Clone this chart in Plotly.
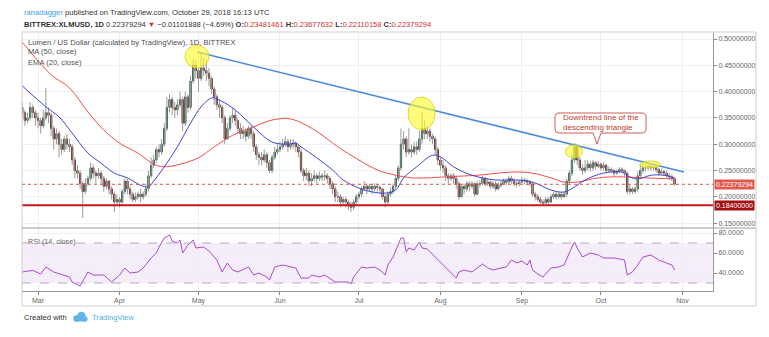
import pandas as pd
import plotly.graph_objects as go

# ---------------- data: XLM/USD daily candles (Bittrex) ----------------
start_date = "2018-02-23"
first_open = 0.37
closes = [
    # Feb 23-28
    0.36, 0.345, 0.35, 0.37, 0.36, 0.35,
    # Mar
    0.345, 0.335, 0.35, 0.36, 0.355, 0.33, 0.31, 0.32, 0.30, 0.29,
    0.31, 0.30, 0.295, 0.27, 0.25, 0.245, 0.225, 0.21, 0.225, 0.235,
    0.255, 0.245, 0.24, 0.245, 0.235, 0.22, 0.23, 0.215, 0.205, 0.19, 0.195,
    # Apr
    0.19, 0.21, 0.23, 0.215, 0.205, 0.195, 0.20, 0.205, 0.20, 0.205,
    0.215, 0.24, 0.26, 0.27, 0.29, 0.285, 0.30, 0.33, 0.37, 0.385,
    0.37, 0.365, 0.375, 0.385, 0.34, 0.39, 0.37, 0.42, 0.45, 0.44,
    # May
    0.425, 0.445, 0.44, 0.435, 0.425, 0.405, 0.39, 0.375, 0.37, 0.35,
    0.31, 0.33, 0.35, 0.355, 0.345, 0.33, 0.32, 0.325, 0.315, 0.33,
    0.32, 0.295, 0.28, 0.275, 0.27, 0.28, 0.265, 0.25, 0.275, 0.285, 0.29,
    # Jun
    0.295, 0.30, 0.305, 0.295, 0.30, 0.302, 0.295, 0.285, 0.25, 0.24,
    0.245, 0.23, 0.235, 0.24, 0.235, 0.24, 0.238, 0.24, 0.235, 0.225,
    0.215, 0.20, 0.20, 0.19, 0.195, 0.19, 0.185, 0.18, 0.19, 0.20,
    # Jul
    0.205, 0.215, 0.22, 0.215, 0.22, 0.215, 0.22, 0.218, 0.215, 0.20,
    0.19, 0.205, 0.21, 0.22, 0.235, 0.255, 0.30, 0.31, 0.285, 0.29,
    0.285, 0.295, 0.29, 0.31, 0.33, 0.32, 0.325, 0.315, 0.31, 0.29, 0.27,
    # Aug
    0.26, 0.255, 0.24, 0.235, 0.24, 0.235, 0.225, 0.20, 0.22, 0.215,
    0.225, 0.22, 0.225, 0.205, 0.225, 0.225, 0.235, 0.225, 0.228, 0.22,
    0.225, 0.215, 0.222, 0.225, 0.23, 0.228, 0.235, 0.23, 0.225, 0.225, 0.228,
    # Sep
    0.232, 0.23, 0.228, 0.225, 0.205, 0.20, 0.195, 0.19, 0.188, 0.195,
    0.19, 0.20, 0.205, 0.20, 0.205, 0.20, 0.205, 0.23, 0.245, 0.27,
    0.295, 0.27, 0.255, 0.25, 0.255, 0.262, 0.255, 0.265, 0.258, 0.262,
    # Oct 1-29
    0.255, 0.26, 0.25, 0.252, 0.25, 0.245, 0.248, 0.252, 0.25, 0.245,
    0.21, 0.215, 0.21, 0.215, 0.24, 0.25, 0.255, 0.255, 0.258, 0.255,
    0.256, 0.252, 0.245, 0.248, 0.245, 0.24, 0.238, 0.23481461, 0.22379294,
]
highs = [
    0.38, 0.365, 0.36, 0.38, 0.375, 0.365,
    0.36, 0.35, 0.365, 0.407, 0.37, 0.36, 0.335, 0.33, 0.325, 0.31,
    0.315, 0.32, 0.31, 0.30, 0.275, 0.26, 0.25, 0.23, 0.235, 0.24,
    0.265, 0.262, 0.25, 0.255, 0.25, 0.24, 0.235, 0.232, 0.22, 0.21, 0.205,
    0.20, 0.215, 0.235, 0.235, 0.22, 0.21, 0.208, 0.21, 0.215, 0.21,
    0.225, 0.25, 0.275, 0.28, 0.295, 0.30, 0.31, 0.34, 0.39, 0.395,
    0.39, 0.38, 0.385, 0.40, 0.39, 0.40, 0.395, 0.43, 0.462, 0.46,
    0.445, 0.475, 0.465, 0.46, 0.445, 0.43, 0.41, 0.395, 0.385, 0.375,
    0.355, 0.34, 0.355, 0.37, 0.365, 0.35, 0.34, 0.335, 0.33, 0.335,
    0.335, 0.325, 0.30, 0.285, 0.285, 0.29, 0.285, 0.27, 0.28, 0.295, 0.30,
    0.305, 0.31, 0.315, 0.31, 0.31, 0.31, 0.305, 0.30, 0.29, 0.255,
    0.255, 0.25, 0.245, 0.25, 0.245, 0.248, 0.245, 0.25, 0.245, 0.24,
    0.23, 0.22, 0.21, 0.205, 0.20, 0.20, 0.195, 0.19, 0.195, 0.205,
    0.21, 0.22, 0.23, 0.225, 0.225, 0.225, 0.226, 0.225, 0.222, 0.218,
    0.205, 0.21, 0.218, 0.225, 0.24, 0.26, 0.33, 0.325, 0.315, 0.33,
    0.30, 0.305, 0.305, 0.325, 0.361, 0.345, 0.335, 0.33, 0.32, 0.315, 0.295,
    0.275, 0.27, 0.26, 0.245, 0.245, 0.245, 0.24, 0.23, 0.225, 0.225,
    0.23, 0.23, 0.23, 0.228, 0.23, 0.232, 0.24, 0.238, 0.235, 0.232,
    0.23, 0.23, 0.228, 0.23, 0.235, 0.235, 0.24, 0.24, 0.235, 0.232, 0.232,
    0.238, 0.236, 0.234, 0.232, 0.228, 0.21, 0.205, 0.20, 0.195, 0.20,
    0.20, 0.205, 0.21, 0.21, 0.21, 0.208, 0.21, 0.235, 0.25, 0.28,
    0.302, 0.30, 0.275, 0.262, 0.27, 0.27, 0.268, 0.27, 0.268, 0.268,
    0.265, 0.265, 0.262, 0.258, 0.256, 0.252, 0.252, 0.256, 0.256, 0.252,
    0.248, 0.222, 0.218, 0.22, 0.248, 0.262, 0.265, 0.266, 0.264, 0.262,
    0.262, 0.26, 0.255, 0.254, 0.252, 0.25, 0.245, 0.242, 0.23677632,
]
lows = [
    0.35, 0.335, 0.34, 0.345, 0.35, 0.335,
    0.33, 0.32, 0.33, 0.345, 0.34, 0.315, 0.29, 0.30, 0.275, 0.28,
    0.285, 0.29, 0.285, 0.26, 0.235, 0.235, 0.215, 0.16, 0.205, 0.22,
    0.23, 0.235, 0.225, 0.235, 0.225, 0.21, 0.215, 0.205, 0.195, 0.171, 0.185,
    0.18, 0.185, 0.205, 0.205, 0.195, 0.19, 0.19, 0.195, 0.19, 0.195,
    0.20, 0.21, 0.235, 0.255, 0.265, 0.275, 0.28, 0.295, 0.325, 0.36,
    0.355, 0.35, 0.355, 0.37, 0.325, 0.335, 0.36, 0.365, 0.415, 0.425,
    0.40, 0.42, 0.43, 0.42, 0.41, 0.395, 0.375, 0.365, 0.35, 0.34,
    0.30, 0.31, 0.325, 0.34, 0.335, 0.32, 0.31, 0.31, 0.305, 0.31,
    0.31, 0.285, 0.27, 0.26, 0.26, 0.265, 0.255, 0.245, 0.245, 0.27, 0.28,
    0.285, 0.29, 0.295, 0.285, 0.29, 0.29, 0.285, 0.275, 0.245, 0.23,
    0.232, 0.22, 0.22, 0.23, 0.225, 0.23, 0.23, 0.23, 0.225, 0.215,
    0.205, 0.19, 0.19, 0.18, 0.185, 0.18, 0.175, 0.171, 0.175, 0.185,
    0.195, 0.20, 0.21, 0.205, 0.21, 0.205, 0.21, 0.21, 0.205, 0.195,
    0.18, 0.185, 0.20, 0.205, 0.215, 0.23, 0.25, 0.29, 0.275, 0.28,
    0.275, 0.28, 0.28, 0.285, 0.30, 0.31, 0.31, 0.305, 0.30, 0.28, 0.26,
    0.25, 0.245, 0.23, 0.225, 0.23, 0.225, 0.215, 0.195, 0.20, 0.205,
    0.21, 0.21, 0.215, 0.20, 0.205, 0.218, 0.222, 0.22, 0.22, 0.215,
    0.215, 0.21, 0.212, 0.218, 0.222, 0.222, 0.225, 0.225, 0.22, 0.218, 0.22,
    0.225, 0.224, 0.222, 0.22, 0.20, 0.193, 0.19, 0.186, 0.184, 0.186,
    0.185, 0.188, 0.196, 0.195, 0.198, 0.195, 0.198, 0.20, 0.225, 0.24,
    0.265, 0.26, 0.25, 0.242, 0.245, 0.25, 0.248, 0.25, 0.252, 0.255,
    0.25, 0.25, 0.245, 0.245, 0.245, 0.24, 0.242, 0.245, 0.245, 0.24,
    0.205, 0.205, 0.205, 0.206, 0.21, 0.238, 0.245, 0.248, 0.25, 0.25,
    0.25, 0.246, 0.24, 0.242, 0.24, 0.236, 0.232, 0.23, 0.22110158,
]

# 50-day simple moving average of the close
ma50_dates = ["2018-02-23", "2018-03-06", "2018-03-13", "2018-03-20", "2018-03-26",
              "2018-04-01", "2018-04-08", "2018-04-14", "2018-04-18", "2018-04-24",
              "2018-05-01", "2018-05-07", "2018-05-14", "2018-05-22", "2018-05-29",
              "2018-06-05", "2018-06-11", "2018-06-16", "2018-06-23", "2018-06-28",
              "2018-07-08", "2018-07-15", "2018-07-21", "2018-07-27", "2018-08-03",
              "2018-08-15", "2018-08-28", "2018-09-05", "2018-09-12", "2018-09-17",
              "2018-09-22", "2018-09-30", "2018-10-07", "2018-10-18", "2018-10-29"]
ma50_vals = [0.494, 0.432, 0.407, 0.361, 0.327,
             0.302, 0.283, 0.262, 0.257, 0.262,
             0.274, 0.295, 0.317, 0.333, 0.346,
             0.348, 0.336, 0.321, 0.295, 0.279,
             0.251, 0.241, 0.236, 0.236, 0.238,
             0.241, 0.247, 0.245, 0.236, 0.228,
             0.228, 0.236, 0.238, 0.236, 0.234]

# 20-day exponential moving average of the close
ema20_dates = ["2018-02-23", "2018-03-04", "2018-03-09", "2018-03-14", "2018-03-20",
               "2018-03-25", "2018-03-30", "2018-04-04", "2018-04-09", "2018-04-12",
               "2018-04-14", "2018-04-18", "2018-04-23", "2018-04-28", "2018-05-02",
               "2018-05-06", "2018-05-08", "2018-05-14", "2018-05-20", "2018-05-24",
               "2018-05-29", "2018-06-04", "2018-06-07", "2018-06-09", "2018-06-15",
               "2018-06-21", "2018-06-25", "2018-07-03", "2018-07-11", "2018-07-15",
               "2018-07-18", "2018-07-23", "2018-07-29", "2018-08-01", "2018-08-06",
               "2018-08-13", "2018-08-22", "2018-08-30", "2018-09-05", "2018-09-12",
               "2018-09-17", "2018-09-21", "2018-09-25", "2018-10-02", "2018-10-09",
               "2018-10-11", "2018-10-15", "2018-10-20", "2018-10-25", "2018-10-29"]
ema20_vals = [0.411, 0.371, 0.352, 0.321, 0.283,
              0.264, 0.245, 0.236, 0.222, 0.219,
              0.230, 0.257, 0.295, 0.340, 0.371,
              0.388, 0.386, 0.369, 0.342, 0.323,
              0.304, 0.300, 0.302, 0.295, 0.274,
              0.251, 0.232, 0.213, 0.207, 0.213,
              0.236, 0.257, 0.279, 0.276, 0.257,
              0.241, 0.232, 0.232, 0.228, 0.213,
              0.209, 0.219, 0.232, 0.245, 0.247,
              0.240, 0.234, 0.241, 0.241, 0.236]

# RSI(14) of the close
rsi_dates = ["2018-02-23", "2018-02-27", "2018-03-02", "2018-03-04", "2018-03-07",
             "2018-03-11", "2018-03-13", "2018-03-14", "2018-03-17", "2018-03-20",
             "2018-03-22", "2018-03-26", "2018-03-29", "2018-04-01", "2018-04-03",
             "2018-04-05", "2018-04-08", "2018-04-10", "2018-04-13", "2018-04-15",
             "2018-04-16", "2018-04-18", "2018-04-20", "2018-04-21", "2018-04-23",
             "2018-04-24", "2018-04-25", "2018-04-27", "2018-04-29", "2018-04-30",
             "2018-05-03", "2018-05-05", "2018-05-08", "2018-05-10", "2018-05-12",
             "2018-05-14", "2018-05-16", "2018-05-20", "2018-05-22", "2018-05-24",
             "2018-05-27", "2018-05-28", "2018-05-30", "2018-06-02", "2018-06-05",
             "2018-06-07", "2018-06-09", "2018-06-12", "2018-06-13", "2018-06-16",
             "2018-06-18", "2018-06-21", "2018-06-22", "2018-06-25", "2018-06-27",
             "2018-06-28", "2018-06-29", "2018-07-02", "2018-07-04", "2018-07-07",
             "2018-07-09", "2018-07-11", "2018-07-12", "2018-07-14", "2018-07-16",
             "2018-07-17", "2018-07-18", "2018-07-19", "2018-07-20", "2018-07-22",
             "2018-07-24", "2018-07-25", "2018-07-27", "2018-07-30", "2018-08-02",
             "2018-08-04", "2018-08-07", "2018-08-08", "2018-08-10", "2018-08-13",
             "2018-08-17", "2018-08-19", "2018-08-21", "2018-08-24", "2018-08-26",
             "2018-08-28", "2018-08-30", "2018-09-01", "2018-09-03", "2018-09-04",
             "2018-09-05", "2018-09-07", "2018-09-09", "2018-09-12", "2018-09-15",
             "2018-09-17", "2018-09-19", "2018-09-20", "2018-09-21", "2018-09-22",
             "2018-09-24", "2018-09-27", "2018-09-30", "2018-10-02", "2018-10-06",
             "2018-10-10", "2018-10-11", "2018-10-13", "2018-10-15", "2018-10-17",
             "2018-10-20", "2018-10-23", "2018-10-26", "2018-10-28", "2018-10-29"]
rsi_vals = [41, 42.6, 39, 46, 41,
            38, 36, 31, 27, 41,
            38, 38, 31, 38, 45,
            40, 41, 45, 55, 60,
            66, 75, 78, 72, 70,
            73, 60, 68, 73, 65,
            66, 62, 53, 41, 50,
            43, 41, 46, 38, 40,
            36, 33, 46, 48, 46,
            45, 35, 35, 38, 36,
            38, 33, 31, 31, 31,
            29, 36, 46, 45, 46,
            43, 38, 48, 56, 68,
            75, 75, 61, 65, 63,
            71, 65, 64, 56, 48,
            43, 35, 41, 43, 41,
            49, 45, 43, 45, 46,
            53, 50, 52, 48, 53,
            43, 39, 36, 45, 46,
            48, 61, 66, 71, 65,
            56, 60, 58, 55, 55,
            53, 38, 41, 48, 56,
            58, 53, 50, 48, 43]

# Drawing tools: trend line, support level and highlighted touches
trend_start = ("2018-04-30 12:00", 0.4753)
trend_end = ("2018-11-01 14:00", 0.2471)
support_level = 0.184
highlights = [  # (from, to, low, high)
    ("2018-04-25 21:00", "2018-05-05 00:00", 0.4449, 0.4886),
    ("2018-07-19 17:00", "2018-07-30 00:00", 0.3270, 0.3897),
    ("2018-09-17 12:00", "2018-09-24 00:00", 0.2738, 0.2985),
    ("2018-10-15 19:00", "2018-10-23 17:00", 0.2548, 0.2680),
]

price_ticks = [0.15, 0.20, 0.25, 0.30, 0.35, 0.40, 0.45, 0.50]
rsi_ticks = [40, 60, 80]
month_ticks = ["2018-03-01", "2018-04-01", "2018-05-01", "2018-06-01", "2018-07-01",
               "2018-08-01", "2018-09-01", "2018-10-01", "2018-11-01"]
month_labels = ["Mar", "Apr", "May", "Jun", "Jul", "Aug", "Sep", "Oct", "Nov"]

# ---------------- derived series ----------------
dates = pd.date_range(start_date, periods=len(closes), freq="D")
opens = [first_open] + closes[:-1]
body_hi = [max(o, c) for o, c in zip(opens, closes)]
body_lo = [min(o, c) for o, c in zip(opens, closes)]
last_close = closes[-1]

wick_x, wick_y = [], []
for d, h, l in zip(dates, highs, lows):
    wick_x += [d, d, None]
    wick_y += [l, h, None]

# ---------------- geometry (pixels -> paper) ----------------
W, H = 769, 337
ML, MR, MT, MB = 22, 56, 32, 46
PW, PH = W - ML - MR, H - MT - MB
SPLIT_Y = 228  # pixel row dividing price and RSI panes


def px(x, y):
    return (x - ML) / PW, (H - MB - y) / PH


main_bottom = px(0, SPLIT_Y)[1]
FONT = "Liberation Sans"
GRID = "#efefef"

fig = go.Figure()

# wicks
fig.add_trace(go.Scatter(x=wick_x, y=wick_y, mode="lines",
                         line=dict(color="#9a9a9c", width=1),
                         hoverinfo="skip", showlegend=False))
# bodies
fig.add_trace(go.Candlestick(
    x=dates, open=opens, high=body_hi, low=body_lo, close=closes,
    increasing=dict(line=dict(color="#225437", width=1), fillcolor="#3f7d52"),
    decreasing=dict(line=dict(color="#5b1a13", width=1), fillcolor="#9c3a2e"),
    whiskerwidth=0, showlegend=False))

fig.add_trace(go.Scatter(x=pd.to_datetime(ma50_dates), y=ma50_vals, mode="lines",
                         line=dict(color="#f04c4c", width=1, shape="spline"),
                         showlegend=False, hoverinfo="skip"))
fig.add_trace(go.Scatter(x=pd.to_datetime(ema20_dates), y=ema20_vals, mode="lines",
                         line=dict(color="#3b45d4", width=1, shape="spline"),
                         showlegend=False, hoverinfo="skip"))

fig.add_trace(go.Scatter(x=pd.to_datetime(rsi_dates), y=rsi_vals, mode="lines",
                         line=dict(color="#a94ccf", width=1),
                         xaxis="x2", yaxis="y2", showlegend=False, hoverinfo="skip"))

x_range = [pd.Timestamp("2018-02-22 22:00"), pd.Timestamp("2018-11-12 15:00")]

axis_font = dict(family=FONT, size=7, color="#666666")
fig.update_layout(
    width=W, height=H,
    margin=dict(l=ML, r=MR, t=MT, b=MB),
    paper_bgcolor="white", plot_bgcolor="white",
    font=dict(family=FONT, size=8, color="#333333"),
    showlegend=False,
    xaxis=dict(type="date", range=x_range, domain=[0, 1], anchor="y",
               showticklabels=False, tickvals=month_ticks, showgrid=True,
               gridcolor=GRID, zeroline=False, rangeslider=dict(visible=False),
               showline=False),
    xaxis2=dict(type="date", range=x_range, domain=[0, 1], anchor="y2", matches="x",
                tickvals=month_ticks, ticktext=month_labels, tickfont=axis_font,
                showgrid=True, gridcolor=GRID, zeroline=False,
                ticks="outside", ticklen=3, tickcolor="#888888",
                showline=True, linecolor="#999999", linewidth=1),
    yaxis=dict(domain=[main_bottom, 1], range=[0.1407, 0.5133], side="right",
               anchor="x", tickvals=price_ticks, tickformat=".8f",
               tickfont=axis_font, showgrid=True, gridcolor=GRID, zeroline=False,
               ticks="outside", ticklen=3, tickcolor="#888888",
               showline=True, linecolor="#999999", linewidth=1),
    yaxis2=dict(domain=[0, main_bottom], range=[22, 85], side="right",
                anchor="x2", tickvals=rsi_ticks, tickformat=".4f",
                tickfont=axis_font, showgrid=True, gridcolor=GRID, zeroline=False,
                ticks="outside", ticklen=3, tickcolor="#888888",
                showline=True, linecolor="#999999", linewidth=1),
)

shapes = []
# RSI band and levels
shapes.append(dict(type="rect", xref="x2 domain", yref="y2", x0=0, x1=1, y0=30, y1=70,
                   fillcolor="rgba(170, 80, 220, 0.10)", line=dict(width=0), layer="below"))
for lv in (30, 70):
    shapes.append(dict(type="line", xref="x2 domain", yref="y2", x0=0, x1=1, y0=lv, y1=lv,
                       line=dict(color="#b8a8c4", width=1, dash="dash")))

# last price dotted line and support level
shapes.append(dict(type="line", xref="x domain", yref="y", x0=0, x1=1,
                   y0=last_close, y1=last_close,
                   line=dict(color="#e0524a", width=1, dash="dot")))
shapes.append(dict(type="line", xref="x domain", yref="y", x0=0, x1=1,
                   y0=support_level, y1=support_level,
                   line=dict(color="#c8161b", width=2)))

# descending trend line
shapes.append(dict(type="line", xref="x", yref="y",
                   x0=trend_start[0], y0=trend_start[1], x1=trend_end[0], y1=trend_end[1],
                   line=dict(color="#4c8be0", width=1.5)))

# highlighted touches
for x0, x1, y0, y1 in highlights:
    shapes.append(dict(type="circle", xref="x", yref="y", x0=x0, x1=x1, y0=y0, y1=y1,
                       fillcolor="rgba(255, 250, 40, 0.62)",
                       line=dict(color="rgba(215, 205, 40, 0.8)", width=1)))

# frame and pane divider
fx0, fy0 = px(22, 306)
fx1, fy1 = px(756, 32)
shapes.append(dict(type="rect", xref="paper", yref="paper", x0=fx0, y0=fy0, x1=fx1, y1=fy1,
                   line=dict(color="#cfcfcf", width=1), fillcolor="rgba(0,0,0,0)"))
sx0, sy = px(22, SPLIT_Y)
sx1, _ = px(756, SPLIT_Y)
shapes.append(dict(type="line", xref="paper", yref="paper", x0=sx0, x1=sx1, y0=sy, y1=sy,
                   line=dict(color="#9a9a9a", width=1)))


# callout box with pointer
def callout_path(x0, y0, x1, y1, r, tip, base_l, base_r):
    pts = []
    P = lambda x, y: "%.5f,%.5f" % px(x, y)
    pts.append("M" + P(x0 + r, y0))
    pts.append("L" + P(x1 - r, y0))
    pts.append("Q" + P(x1, y0) + " " + P(x1, y0 + r))
    pts.append("L" + P(x1, y1 - r))
    pts.append("Q" + P(x1, y1) + " " + P(x1 - r, y1))
    pts.append("L" + P(base_r, y1))
    pts.append("L" + P(tip[0], tip[1]))
    pts.append("L" + P(base_l, y1))
    pts.append("L" + P(x0 + r, y1))
    pts.append("Q" + P(x0, y1) + " " + P(x0, y1 - r))
    pts.append("L" + P(x0, y0 + r))
    pts.append("Q" + P(x0, y0) + " " + P(x0 + r, y0))
    pts.append("Z")
    return " ".join(pts)


shapes.append(dict(type="path", xref="paper", yref="paper",
                   path=callout_path(555, 113, 646, 133, 4, (597, 144), 593, 601),
                   fillcolor="white", line=dict(color="#c9605a", width=1)))

# small cloud logo in the footer
cloud = "#5db6e8"
for cx, cy, r in [(76.5, 318.5, 3.2), (81.5, 316.0, 4.2), (85.0, 319.0, 2.6)]:
    a0, b0 = px(cx - r, cy + r)
    a1, b1 = px(cx + r, cy - r)
    shapes.append(dict(type="circle", xref="paper", yref="paper", x0=a0, y0=b0, x1=a1, y1=b1,
                       fillcolor=cloud, line=dict(width=0)))
ra0, rb0 = px(75, 321.5)
ra1, rb1 = px(86, 318.5)
shapes.append(dict(type="rect", xref="paper", yref="paper", x0=ra0, y0=rb0, x1=ra1, y1=rb1,
                   fillcolor=cloud, line=dict(width=0)))

fig.update_layout(shapes=shapes)


def text_at(x, y, text, size=8, color="#333333", anchor="left", **kw):
    ax, ay = px(x, y)
    fig.add_annotation(x=ax, y=ay, xref="paper", yref="paper", text=text,
                       showarrow=False, xanchor=anchor, yanchor="middle",
                       font=dict(family=FONT, size=size, color=color), **kw)


RED = "#d03030"
text_at(22, 13, "<span style='color:#3d9fdb'>ranadagger</span> published on "
                "TradingView.com, October 29, 2018 16:13 UTC", size=7.6)
text_at(22, 24, "<b>BITTREX:XLMUSD, 1D</b> 0.22379294 "
                "<span style='color:%s'>▼</span> −0.01101888 (−4.69%%) "
                "<b>O:</b><span style='color:%s'>0.23481461</span> "
                "<b>H:</b><span style='color:%s'>0.23677632</span> "
                "<b>L:</b><span style='color:%s'>0.22110158</span> "
                "<b>C:</b><span style='color:%s'>0.22379294</span>" % ((RED,) * 5),
        size=7.5)

text_at(26, 42, "Lumen / US Dollar (calculated by TradingView), 1D, BITTREX",
        size=7.6, color="#4d4d4d")
text_at(26, 52, "MA (50, close)", size=7.6, color="#555555")
text_at(26, 62, "EMA (20, close)", size=7.6, color="#555555")
text_at(26, 241.5, "RSI (14, close)", size=7.2, color="#666666")

text_at(561, 123, "Downtrend line of the<br>descending triangle", size=8, color="#c0392b",
        align="left")

text_at(22, 317, "Created with", size=7.6, color="#333333")
text_at(90, 317, "TradingView", size=7.6, color="#4fb0e4")

# price labels on the scale
for val, bg in [(last_close, "#e4574d"), (support_level, "#a30f12")]:
    fig.add_annotation(x=1, y=val, xref="paper", yref="y", text="%.8f" % val,
                       showarrow=False, xanchor="left", yanchor="middle", xshift=1,
                       bgcolor=bg, borderpad=1,
                       font=dict(family=FONT, size=7, color="white"))

fig.write_html("out.html")
